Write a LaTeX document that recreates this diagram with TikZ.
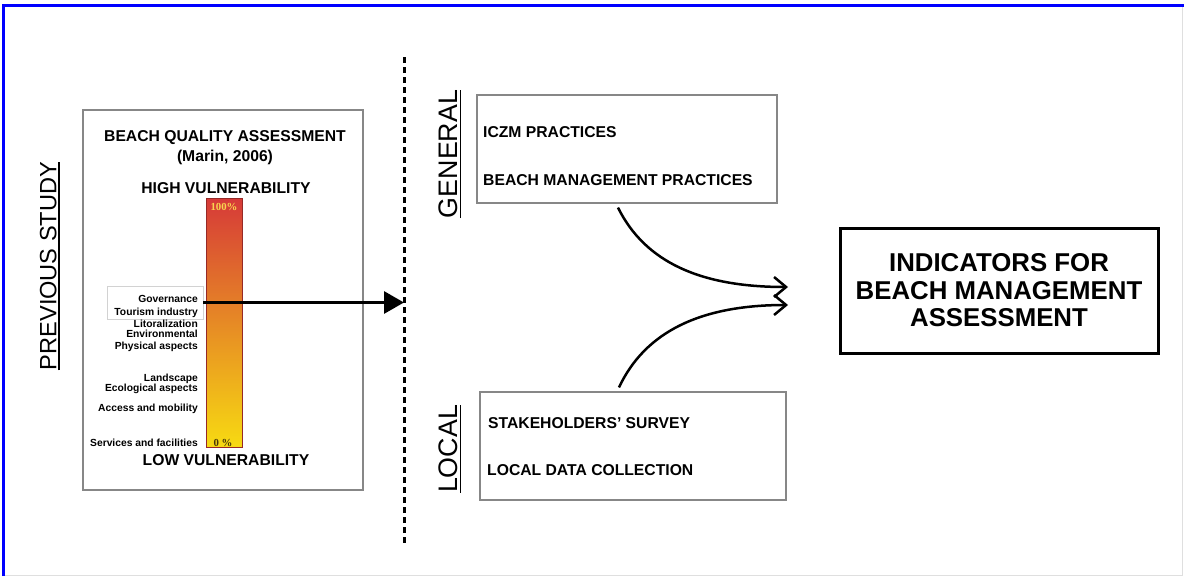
\documentclass[tikz,border=0pt]{standalone}
\usepackage{fontspec}
\setmainfont{Liberation Sans}
\newfontfamily\pctfont{Liberation Serif}
\usetikzlibrary{arrows.meta}

\definecolor{framegray}{RGB}{135,135,135}
\definecolor{barred}{RGB}{214,58,56}
\definecolor{barorange}{RGB}{233,138,48}
\definecolor{baryellow}{RGB}{247,218,18}
\definecolor{pcttop}{RGB}{248,214,80}
\definecolor{pctbot}{RGB}{70,55,10}

% underlined side titles
\newcommand{\ulabel}[1]{\setbox0\hbox{#1}\rlap{\rule[-3.5pt]{\wd0}{1.6pt}}\box0}

\begin{document}
\begin{tikzpicture}[x=1pt,y=-1pt,
    panel/.style={draw=framegray,line width=1.2pt},
    side/.style={rotate=90,font=\fontsize{26.8}{27}\selectfont},
    head/.style={font=\bfseries\fontsize{15.7}{18}\selectfont},
    item/.style={anchor=west,inner sep=0pt,font=\bfseries\fontsize{15.7}{18}\selectfont},
    crit/.style={anchor=east,inner sep=0pt,font=\bfseries\fontsize{10.3}{11}\selectfont},
    flowcurve/.style={line width=2.5pt,-{Straight Barb[length=12pt,width=20pt,line width=2.5pt]}}]

    % page frame
    \useasboundingbox (0,0) rectangle (1184,576);
    \fill[white] (0,0) rectangle (1184,576);
    \draw[gray!25,line width=1pt] (4,6) rectangle (1182,575);
    \draw[blue,line width=3.5pt] (3.5,576) -- (3.5,5.5) -- (1184,5.5);

    % previous study
    \node[side,font=\fontsize{23.6}{24}\selectfont] (prev) at (50,266) {\ulabel{PREVIOUS STUDY}};
    \node[panel,minimum width=280,minimum height=380] (study) at (223,300) {};
    \node[head] (bqa)  at (225,138) {BEACH QUALITY ASSESSMENT};
    \node[head] (ref)  at (225,157) {(Marin, 2006)};
    \node[head] (high) at (226,188) {HIGH VULNERABILITY};
    \node[head] (low)  at (226,460) {LOW VULNERABILITY};

    \node[draw=barred!70!black,line width=0.4pt,top color=barred,middle color=barorange,
          bottom color=baryellow,minimum width=36,minimum height=249] (bar) at (224,322.5) {};
    \node[text=pcttop,font=\pctfont\bfseries\fontsize{10.8}{11}\selectfont] (full) at (224,207) {100\%};
    \node[text=pctbot,font=\pctfont\bfseries\fontsize{10.8}{11}\selectfont] (none) at (223,443) {0 \%};

    \node[draw=gray!35,line width=0.8pt,minimum width=96,minimum height=33] (govbox) at (155,302.5) {};
    \node[crit] (gov)  at (198,299) {Governance};
    \node[crit] (tour) at (198,313) {Tourism industry};
    \node[crit] (lit)  at (198,324) {Litoralization};
    \node[crit] (env)  at (198,333.5) {Environmental};
    \node[crit] (phy)  at (198,347) {Physical aspects};
    \node[crit] (land) at (198,379) {Landscape};
    \node[crit] (eco)  at (198,388.5) {Ecological aspects};
    \node[crit] (acc)  at (198,409) {Access and mobility};
    \node[crit] (serv) at (198,443) {Services and facilities};

    % dividing line
    \coordinate (splittop) at (404,57);
    \coordinate (splitbot) at (404,546);
    \draw[line width=3pt,dash pattern=on 6pt off 4pt] (splittop) -- (splitbot);
    \draw[line width=3pt,-{Triangle[length=20pt,width=22pt]}] (govbox.east) -- (govbox.east -| splittop);

    % general and local sources
    \node[side] (genlab) at (450,154) {\ulabel{GENERAL}};
    \node[panel,minimum width=300,minimum height=108] (gen) at (627,149) {};
    \node[item] (iczm) at (483,132) {ICZM PRACTICES};
    \node[item] (bmp)  at (483,180) {BEACH MANAGEMENT PRACTICES};

    \node[side] (loclab) at (450,449) {\ulabel{LOCAL}};
    \node[panel,minimum width=306,minimum height=108] (loc) at (633,446) {};
    \node[item] (stake) at (488,423) {STAKEHOLDERS' SURVEY};
    \node[item] (ldc)   at (487,470) {LOCAL DATA COLLECTION};

    % result
    \node[draw,line width=3pt,minimum width=318,minimum height=125,align=center,
          font=\bfseries\fontsize{25.8}{27.5}\selectfont] (ind) at (999,290.5)
          {INDICATORS FOR\\BEACH MANAGEMENT\\ASSESSMENT};

    \coordinate (tipA) at (788,287);
    \coordinate (tipB) at (788,305);
    \draw[flowcurve] ([xshift=-9pt,yshift=-4pt]gen.south) .. controls (645,262) and (700,287) .. (tipA);
    \draw[flowcurve] ([xshift=-14pt,yshift=4pt]loc.north) .. controls (645,332) and (700,305) .. (tipB);
\end{tikzpicture}
\end{document}
